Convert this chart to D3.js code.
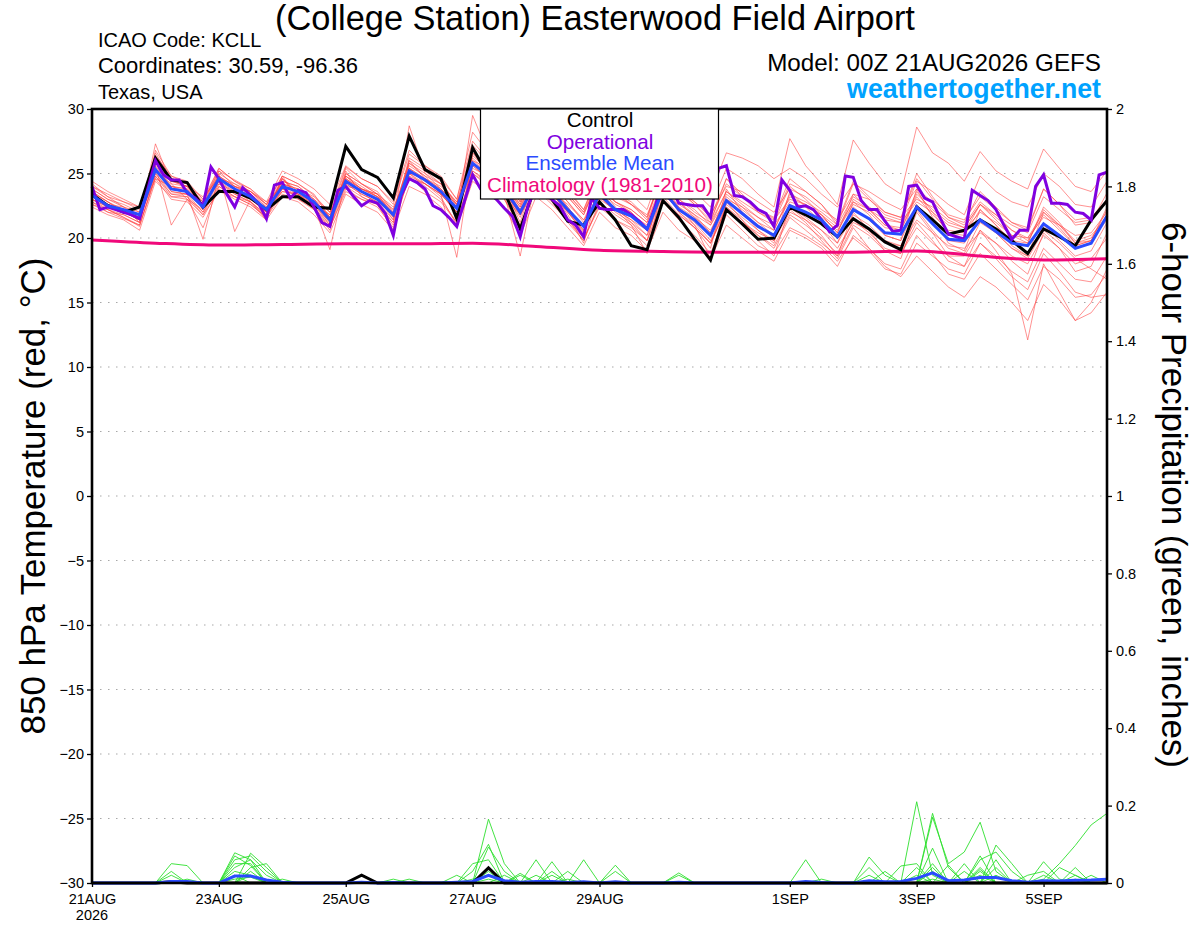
<!DOCTYPE html>
<html><head><meta charset="utf-8">
<script src="https://cdn.jsdelivr.net/npm/d3@7"></script>
<style>
html,body{margin:0;padding:0;background:#fff;}
svg{display:block;font-family:"Liberation Sans",Arial,Helvetica,sans-serif;}
</style></head><body>
<svg id="chart" width="1200" height="927"></svg>
<script>
// ---------------- DATA ----------------
const titleText = "(College Station) Easterwood Field Airport";
const infoLines = ["ICAO Code: KCLL", "Coordinates: 30.59, -96.36", "Texas, USA"];
const modelText = "Model: 00Z 21AUG2026 GEFS";
const siteText = "weathertogether.net";
const legendNames = ["Control", "Operational", "Ensemble Mean", "Climatology (1981-2010)"];
const leftTitle = "850 hPa Temperature (red, °C)";
const rightTitle = "6-hour Precipitation (green, inches)";

const tickHours = [0, 48, 96, 144, 192, 264, 312, 360];
const tickLabels = ["21AUG", "23AUG", "25AUG", "27AUG", "29AUG", "1SEP", "3SEP", "5SEP"];
const firstYear = "2026";
const tempTicks = [-30,-25,-20,-15,-10,-5,0,5,10,15,20,25,30];
const precipTicks = [0,0.2,0.4,0.6,0.8,1,1.2,1.4,1.6,1.8,2];

// 6-hourly series (65 points, 21AUG 00Z .. 6SEP 00Z)
const controlT = [
23.4,22.5,22.0,22.4,26.2,24.5,24.3,22.4,23.6,23.6,23.1,22.2,23.2,23.2,22.4,22.3,
27.1,25.3,24.7,23.1,27.9,25.3,24.6,21.5,27.0,24.8,23.6,20.7,24.2,23.0,21.3,21.0,
22.8,21.4,19.4,19.1,22.9,21.6,19.9,18.3,22.2,21.1,19.9,20.0,22.4,21.8,21.1,20.1,
21.5,20.7,19.7,19.1,22.4,21.4,20.3,20.6,21.4,20.7,19.8,18.8,20.7,20.1,19.4,21.4,22.9];
const meanT = [
23.3,22.5,22.2,21.8,25.3,23.8,23.6,22.4,24.6,23.8,23.2,22.2,24.0,23.6,22.8,21.4,
24.4,23.6,23.0,21.8,25.2,24.5,23.6,22.3,25.8,24.8,23.8,22.0,24.4,23.6,22.2,20.9,
23.4,22.2,21.7,20.7,23.7,22.2,21.4,20.2,22.9,21.9,20.9,20.2,22.5,22.0,21.4,20.1,
22.2,21.5,20.4,20.3,22.4,21.1,19.9,19.8,21.4,20.5,19.6,19.4,21.1,20.2,19.2,19.6,21.7];
// operational run, 3-hourly (129 points)
const operationalT = [
24.0,22.2,22.4,22.2,22.0,21.8,21.5,23.7,26.0,24.9,24.5,24.5,23.5,23.1,22.5,25.5,
24.6,23.4,22.4,23.9,23.3,22.7,21.5,24.1,24.3,23.1,23.7,23.5,22.4,21.2,20.9,23.7,
24.0,23.2,22.5,22.9,22.7,21.9,20.2,23.3,24.6,24.3,23.8,22.5,22.2,21.6,20.9,22.9,
24.9,23.8,23.5,23.0,22.3,21.7,20.1,22.5,24.0,23.5,23.0,22.5,21.4,21.0,20.1,23.1,
22.3,22.2,22.2,22.2,21.8,21.3,20.7,22.4,24.6,24.0,22.7,22.6,22.5,22.5,21.6,25.4,
25.6,23.3,23.2,22.8,22.2,21.9,20.9,24.5,23.7,22.4,22.5,22.2,21.4,20.5,21.0,24.8,
24.7,22.9,22.2,22.2,21.3,20.5,20.6,24.0,24.1,23.1,22.8,21.5,20.3,20.1,19.9,23.7,
23.3,22.9,22.2,21.0,19.9,20.6,20.6,24.0,24.9,22.7,22.7,22.6,22.0,21.9,21.4,24.9,
25.1];
// climatology, daily (17 points)
const climoT = [19.85,19.6,19.45,19.5,19.55,19.55,19.6,19.35,19.05,18.95,18.9,18.9,18.9,19.0,18.6,18.3,18.4];

const membersT = [
[23.8,23.0,22.6,22.0,26.6,24.5,24.0,22.8,25.2,24.5,23.8,22.6,24.8,24.2,23.3,22.0,
 25.5,24.6,24.0,22.6,26.5,25.6,24.8,23.0,27.5,26.0,24.8,22.8,25.8,24.8,23.2,21.8,
 24.8,23.5,22.8,21.6,25.0,23.8,22.6,21.2,24.6,23.4,22.2,21.5,24.2,23.6,22.6,21.0,
 24.2,23.0,21.8,21.4,25.0,23.2,21.6,21.2,23.6,22.4,21.2,20.8,23.8,22.6,21.0,21.2,23.5],
[22.8,22.0,21.5,21.0,24.6,23.0,22.8,21.6,23.8,23.0,22.4,21.4,23.2,22.8,21.8,20.4,
 23.4,22.6,22.0,20.6,24.0,23.4,22.4,20.8,24.4,23.4,22.4,20.2,23.2,22.2,20.8,19.4,
 22.0,20.8,20.2,19.0,22.0,20.6,19.8,18.4,21.0,20.0,19.0,18.2,20.6,20.0,19.2,17.8,
 20.2,19.2,18.0,17.6,20.2,18.8,17.2,16.8,18.8,17.6,16.4,15.2,17.8,16.8,15.4,15.6,17.2],
[23.5,22.8,22.0,21.4,27.3,24.2,23.0,20.8,24.0,23.2,22.8,21.6,24.8,23.0,22.4,21.0,
 25.2,23.2,22.6,21.2,28.7,25.0,23.8,21.6,29.5,26.5,24.0,21.2,25.0,23.8,22.0,20.5,
 24.0,22.4,21.2,19.8,24.4,22.0,20.8,19.2,23.8,22.0,20.6,19.6,23.6,22.4,21.2,19.6,
 22.8,21.8,20.2,19.8,23.8,21.6,19.6,19.0,22.2,21.0,19.4,18.6,22.0,20.8,19.4,19.8,22.4],
[24.2,23.2,22.8,22.2,25.8,24.6,24.2,23.0,24.8,24.0,23.6,22.6,24.2,23.8,23.2,22.0,
 24.0,23.8,23.4,22.4,25.0,24.6,24.0,22.8,25.2,24.4,23.6,22.2,24.2,23.6,22.6,21.4,
 23.0,22.2,21.8,21.0,23.4,22.6,21.8,21.0,23.0,22.4,21.6,21.0,22.8,22.4,21.8,20.8,
 22.8,22.2,21.4,21.2,22.8,22.0,21.0,20.6,22.0,21.2,20.2,20.0,21.6,21.0,20.2,20.4,22.0],
[22.6,22.2,21.6,20.9,24.8,23.4,23.4,22.0,24.4,23.4,22.8,21.8,23.6,23.4,22.6,21.2,
 24.8,23.8,23.2,21.6,25.8,24.8,23.4,22.0,26.4,25.2,24.0,22.4,25.2,24.2,22.8,21.2,
 24.2,22.8,22.2,21.2,24.6,23.0,22.2,21.0,23.6,22.6,21.6,20.6,23.2,22.6,21.8,20.4,
 23.0,22.2,21.0,20.8,23.6,22.0,20.4,20.2,22.2,21.0,19.8,19.6,22.4,21.2,19.6,19.8,22.2],
[23.0,22.4,22.0,21.6,25.6,21.0,23.0,22.2,25.0,20.5,23.0,22.0,24.2,23.8,22.6,21.8,
 24.8,24.0,23.2,21.4,25.4,24.2,23.2,21.0,25.6,24.6,23.4,21.6,24.6,23.4,22.0,20.4,
 23.2,22.0,21.2,20.2,23.8,22.0,21.0,19.6,22.4,21.4,20.2,19.4,21.8,21.0,20.0,18.8,
 21.4,20.4,19.2,18.8,21.2,19.8,18.2,17.8,19.6,18.6,17.4,16.6,19.2,18.0,16.8,16.6,18.6],
[23.6,22.8,22.2,21.6,25.2,24.2,24.0,22.6,24.4,24.0,23.6,22.4,24.4,24.0,23.0,21.6,
 25.0,24.2,23.6,22.0,25.6,24.8,24.2,22.6,26.0,25.4,24.6,22.8,25.6,25.0,23.8,22.2,
 25.2,24.2,23.4,22.2,25.8,24.8,23.6,22.4,25.4,24.6,23.4,22.4,27.7,25.6,24.2,22.6,
 27.6,25.8,24.2,23.4,28.6,26.6,25.8,24.4,26.7,25.2,24.4,23.8,26.9,25.4,24.0,23.6,25.2],
[23.2,22.6,22.4,21.8,24.6,24.0,23.8,22.8,24.2,23.6,23.0,22.2,23.6,23.4,22.8,21.6,
 24.2,23.4,22.8,21.8,24.8,24.2,23.4,22.4,25.0,24.0,23.2,21.8,23.8,22.6,21.4,20.0,
 22.4,21.4,20.8,19.8,22.8,21.8,20.8,19.6,22.2,21.2,20.4,19.8,22.0,21.4,20.6,19.2,
 21.2,20.6,19.6,19.4,21.4,20.4,19.4,19.2,20.4,19.6,18.6,18.0,20.2,19.2,18.0,18.4,20.0],
[24.0,23.2,22.4,21.2,26.0,23.6,23.4,19.9,24.8,23.8,22.8,21.4,24.6,23.4,22.4,19.1,
 24.6,23.6,22.6,20.6,26.0,24.6,23.4,18.5,26.6,25.0,23.4,18.6,24.6,23.6,21.8,19.6,
 23.8,22.2,21.0,18.8,24.2,22.4,21.0,18.4,22.8,21.4,19.8,18.6,22.4,21.4,20.2,18.6,
 22.0,20.6,19.0,18.4,22.0,20.4,18.6,17.8,20.6,19.0,17.2,12.1,18.0,15.8,13.6,15.0,17.6],
[22.4,21.8,21.4,20.6,24.4,23.2,23.0,21.8,23.6,23.2,22.6,21.6,23.8,23.2,22.4,20.8,
 23.8,23.0,22.6,21.2,24.6,24.2,23.4,22.0,25.4,24.8,23.6,21.8,24.8,23.8,22.4,20.8,
 23.6,22.6,22.0,20.8,23.6,22.8,21.6,20.6,23.0,22.0,21.0,20.0,22.2,21.2,19.8,18.4,
 20.8,19.2,17.8,17.0,18.6,17.4,16.2,15.4,17.0,16.2,15.0,13.6,16.4,15.2,13.6,14.2,15.8],
[23.8,23.0,22.4,22.0,25.4,24.0,23.8,22.6,25.0,24.2,23.4,22.4,24.6,23.6,22.8,21.8,
 24.8,23.8,23.2,22.2,25.4,24.6,23.8,22.6,26.2,25.0,24.2,22.4,25.0,24.2,22.8,21.4,
 24.0,22.8,22.2,21.2,24.2,23.0,22.0,21.2,23.6,22.8,22.0,21.4,23.0,22.6,21.6,20.6,
 22.6,22.0,20.8,20.6,23.4,22.2,21.2,20.8,22.6,21.6,20.6,20.0,22.0,21.0,19.8,20.2,21.6],
[23.0,22.4,22.0,21.4,25.0,23.6,23.4,22.4,24.4,23.6,23.0,22.0,23.8,23.4,22.6,21.2,
 24.2,23.4,22.8,21.4,25.0,24.2,23.4,22.0,25.6,24.6,23.6,21.8,24.4,23.4,22.0,20.6,
 23.2,22.2,21.4,20.6,23.6,22.4,21.6,20.4,23.2,22.2,21.2,20.6,23.4,22.8,22.0,21.0,
 23.2,22.4,21.6,21.2,24.4,23.6,22.6,21.8,24.8,23.6,22.8,22.4,25.0,24.0,22.6,22.4,24.4],
[23.4,22.6,22.0,21.8,26.2,24.6,24.2,22.8,25.4,24.4,23.8,22.8,25.2,24.6,23.8,22.6,
 25.6,24.6,24.0,22.8,26.8,25.6,24.6,23.0,28.2,26.6,25.0,23.0,26.4,25.0,23.4,22.0,
 25.0,23.6,22.6,21.6,25.4,23.8,22.8,21.6,24.6,23.2,22.0,21.2,24.0,23.0,21.8,20.4,
 23.4,22.2,21.0,20.6,23.2,21.8,20.6,20.4,22.6,21.4,20.2,19.6,22.2,21.0,19.6,20.0,21.8],
[22.8,22.2,21.6,21.0,24.8,23.2,23.2,22.0,24.0,23.2,22.6,21.6,23.4,23.0,22.2,20.8,
 23.6,23.0,22.4,20.8,24.8,23.6,22.8,21.2,25.0,24.2,23.0,20.8,24.0,23.0,21.4,19.8,
 22.6,21.4,20.6,19.4,22.8,21.4,20.2,18.8,21.8,20.6,19.4,18.8,20.8,20.2,19.4,18.2,
 20.0,19.0,17.6,17.2,19.6,18.6,17.6,17.2,19.6,18.4,17.0,16.0,18.8,17.4,15.8,15.4,15.6],
[24.0,23.4,22.8,22.4,26.4,24.8,24.4,23.0,25.4,24.4,23.6,22.6,24.8,24.2,23.4,21.6,
 24.6,23.8,23.4,22.2,25.8,25.0,24.2,22.8,26.6,25.6,24.4,22.6,25.4,24.6,23.2,21.8,
 24.6,23.2,22.6,21.4,25.2,23.6,22.6,21.4,24.2,23.2,22.2,21.6,24.6,23.6,22.6,21.2,
 24.4,23.2,22.0,21.6,24.6,23.0,21.8,21.4,23.2,22.2,21.2,20.6,23.8,22.6,21.4,21.6,23.0],
[23.2,22.6,22.2,21.6,25.6,24.0,23.6,22.4,24.6,23.8,23.2,22.2,24.2,23.6,22.8,21.4,
 24.4,23.6,23.0,21.8,25.2,24.4,23.6,22.4,25.8,25.0,24.0,22.2,25.2,24.6,23.6,22.2,
 25.0,24.6,24.2,23.0,26.4,25.6,24.6,23.4,26.6,26.2,25.6,24.6,25.4,24.6,23.4,22.4,
 24.2,23.6,22.8,22.2,23.8,22.8,21.6,21.0,22.8,21.8,20.6,19.8,21.8,20.6,19.4,19.8,21.4],
[23.6,22.8,22.0,21.4,25.0,23.4,23.2,21.8,24.2,23.4,22.8,21.8,24.0,23.6,22.6,21.0,
 24.0,23.2,22.6,21.0,25.0,24.0,23.0,21.2,25.2,24.2,23.0,21.0,23.8,22.8,21.2,19.8,
 22.8,21.8,21.0,19.8,23.2,21.8,20.8,19.6,22.4,21.2,20.2,19.2,21.6,20.6,19.6,18.6,
 21.0,20.2,19.0,18.8,20.8,19.6,18.6,18.6,20.6,19.6,18.2,17.2,20.4,19.2,17.4,17.8,20.4],
[22.6,22.0,21.8,21.2,25.8,24.4,24.0,22.6,25.2,24.0,23.4,22.2,24.4,24.0,23.0,21.6,
 25.4,24.2,23.4,21.8,26.0,25.2,24.2,22.4,26.8,25.4,24.2,22.0,25.0,24.0,22.4,20.8,
 23.8,22.8,22.0,20.6,24.0,22.8,21.8,20.4,23.4,22.4,21.2,20.2,22.6,22.0,21.2,20.0,
 22.4,21.4,20.2,19.8,22.6,21.2,19.8,19.6,21.4,20.4,19.2,18.6,21.0,19.8,18.6,19.0,21.2],
[24.4,23.6,23.0,22.4,25.4,24.4,24.0,23.2,24.6,24.2,23.6,22.8,24.0,23.6,23.0,22.0,
 24.6,23.8,23.2,22.0,25.4,24.6,23.8,22.6,26.0,25.0,24.0,22.6,25.6,24.8,23.4,22.0,
 24.4,23.4,22.6,21.8,24.8,23.6,22.8,21.8,24.0,23.6,22.8,22.0,23.8,23.2,22.2,21.4,
 23.4,23.0,22.0,21.6,23.0,22.4,21.4,20.8,22.6,21.8,21.0,20.4,23.2,22.2,21.2,21.4,22.8],
[23.0,22.2,21.8,21.2,26.8,24.8,24.2,22.2,24.8,24.0,23.2,22.0,24.6,23.2,22.2,20.6,
 25.0,24.2,23.4,21.6,26.2,25.4,24.4,22.6,27.2,25.8,24.4,21.8,24.8,23.8,22.2,20.6,
 23.4,22.2,21.4,20.2,23.4,22.2,21.2,19.8,22.6,21.6,20.6,19.8,22.4,21.6,20.6,19.6,
 21.8,21.0,19.8,19.4,22.2,20.6,19.2,18.8,21.2,20.4,19.2,18.4,20.6,19.6,18.4,17.6,16.8]
];

// 6-hour precipitation (inches), 65 points
const controlP = [
0,0,0,0,0,0.003,0,0,0,0,0,0,0,0,0,0,
0,0.02,0,0,0,0,0,0,0,0.039,0,0,0,0,0,0,
0,0,0,0,0,0,0,0,0,0,0,0,0,0,0,0,
0,0,0,0,0,0,0,0,0,0,0,0,0,0,0,0,0];
const meanP = [
0,0,0,0,0,0.004,0.004,0,0,0.018,0.018,0.008,0.002,0,0,0,
0,0.002,0,0.001,0,0,0,0.002,0.004,0.02,0.006,0.002,0.004,0.004,0.001,0.003,
0,0.003,0,0,0,0.002,0,0,0,0,0,0,0,0.004,0.001,0,
0,0.006,0.003,0.004,0.012,0.026,0.006,0.008,0.014,0.014,0.006,0.002,0.006,0.005,0.007,0.008,0.01];
const membersP = [
[0,0,0,0,0,.05,.045,0,0,.03,.02,0,0,0,0,0, 0,0,0,0,0,0,0,0,0,.165,.05,0,0,.055,0,0,
 0,0,0,0,0,0,0,0,0,0,0,0,0,0,0,0, 0,0,0,0,.21,.02,0,0,.03,0,0,0,0,0,0,0,0],
[0,0,0,0,0,0,0,0,0,.078,.06,.02,0,0,0,0, 0,0,0,0,0,0,0,0,0,.093,.03,0,.06,0,0,0,
 0,0,0,0,0,0,0,0,0,0,0,0,0,0,0,0, 0,0,0,0,0,.18,.04,0,0,.098,.05,0,0,0,0,0,0],
[0,0,0,0,0,0,0,0,0,0,.077,.04,0,0,0,0, 0,0,0,0,0,0,0,0,.05,.06,0,0,0,0,0,.06,
 0,0,0,0,0,0,0,0,0,0,0,0,0,0,0,0, 0,.067,.02,0,0,.17,.05,.08,.157,.03,0,0,0,0,0,0,0],
[0,0,0,0,0,.03,0,0,0,.06,.07,.03,0,0,0,0, 0,0,0,0,0,0,0,0,0,.04,0,.025,0,0,0,0,
 0,0,0,0,0,0,0,0,0,0,0,0,0,.06,0,0, 0,0,0,0,0,.09,0,0,.07,0,0,0,.055,.01,0,0,0],
[0,0,0,0,0,0,0,0,0,.05,.05,0,0,0,0,0, 0,0,0,0,0,0,0,.02,0,.02,0,0,0,0,0,0,
 0,.046,0,0,0,0,0,0,0,0,0,0,0,0,0,0, 0,.04,0,.044,.05,0,0,0,0,.06,0,0,0,0,.04,0,0],
[0,0,0,0,0,0,.01,0,0,0,.04,.05,0,0,0,0, 0,0,0,0,.01,0,0,0,0,0,0,0,0,.02,0,0,
 0,0,0,0,0,.026,0,0,0,0,0,0,0,0,0,0, 0,0,0,0,0,0,.046,0,.04,0,0,0,.02,0,0,0,0],
[0,0,0,0,0,0,0,0,0,.02,0,0,0,0,0,0, 0,0,0,0,0,0,0,0,0,0,0,0,0,0,.03,0,
 0,0,0,0,0,0,0,0,0,0,0,0,0,0,0,0, 0,0,0,0,0,0,0,.03,0,0,0,0,.01,.05,.097,.15,.18],
[0,0,0,0,0,0,0,0,0,.04,.06,0,0,0,0,0, 0,0,0,0,0,0,0,0,0,.03,0,0,.02,0,0,0,
 0,.03,0,0,0,0,0,0,0,0,0,0,0,0,0,0, 0,0,0,0,0,.03,0,.05,0,.04,0,0,0,0,.02,0,0],
[0,0,0,0,0,.02,0,0,0,0,.03,0,.01,0,0,0, 0,0,0,0,0,0,0,0,0,0,.02,0,0,0,0,0,
 0,0,0,0,0,0,0,0,0,0,0,0,0,0,.01,0, 0,0,0,0,.04,0,0,0,.06,.08,.03,0,0,0,0,0,0],
[0,0,0,0,0,0,0,0,0,.07,.045,0,0,0,0,0, 0,0,0,0,0,0,0,0,.03,.1,0,0,0,0,.01,0,
 0,0,0,0,0,0,0,0,0,0,0,0,0,0,0,0, 0,0,0,0,0,.05,0,0,0,0,0,.02,.03,0,0,.02,0],
[0,0,0,0,0,0,0,0,0,0,0,0,0,0,0,0, 0,0,0,.01,0,0,0,0,0,.01,0,0,0,0,0,0,
 0,0,0,0,0,.02,0,0,0,0,0,0,0,0,0,0, 0,0,.03,0,0,.04,0,0,.02,0,0,0,0,.04,.02,0,0],
[0,0,0,0,0,0,0,0,0,0,.02,0,0,0,0,0, 0,0,0,0,0,0,0,0,0,0,0,.02,0,.03,0,0,
 0,0,0,0,0,0,0,0,0,0,0,0,0,0,0,0, 0,.02,0,0,.02,0,0,0,.035,0,0,0,0,0,.01,0,0],
[0,0,0,0,0,0,0,0,0,.01,.015,0,0,0,0,0, 0,0,0,0,0,0,0,0,.01,.02,0,0,0,0,0,0,
 0,0,0,0,0,0,0,0,0,0,0,0,0,0,0,0, 0,0,0,0,0,.01,0,0,0,.02,0,0,0,0,0,0,0]
];

// ---------------- CHART ----------------
const svg = d3.select("#chart");
const plot = {left: 92, right: 1107, top: 109, bottom: 883};

const x = d3.scaleLinear().domain([0, 384]).range([plot.left, plot.right]);
const yT = d3.scaleLinear().domain([-30, 30]).range([plot.bottom, plot.top]);
const yP = d3.scaleLinear().domain([0, 2]).range([plot.bottom, plot.top]);

function fitWidth(sel, target) {
  const cur = sel.node().getComputedTextLength();
  const fs = parseFloat(sel.attr("font-size"));
  sel.attr("font-size", (fs * target / cur).toFixed(2));
}

// grid (dotted)
svg.append("g").selectAll("line")
  .data(tempTicks.filter(d => d > -30 && d < 30))
  .join("line")
  .attr("x1", plot.left).attr("x2", plot.right)
  .attr("y1", d => yT(d)).attr("y2", d => yT(d))
  .attr("stroke", "#a8a8a8").attr("stroke-width", 1.2)
  .attr("stroke-dasharray", "1.5,6.5");

const lineT6 = d3.line().x((d, i) => x(i * 6)).y(d => yT(d));
const lineT3 = d3.line().x((d, i) => x(i * 3)).y(d => yT(d));
const lineClimo = d3.line().x((d, i) => x(i * 24)).y(d => yT(d)).curve(d3.curveMonotoneX);
const lineP6 = d3.line().x((d, i) => x(i * 6)).y(d => yP(d));

const gData = svg.append("g");
gData.append("g").selectAll("path").data(membersT).join("path")
  .attr("d", lineT6).attr("fill", "none")
  .attr("stroke", "#ff3b3b").attr("stroke-opacity", 0.7).attr("stroke-width", 0.8);
gData.append("g").selectAll("path").data(membersP).join("path")
  .attr("d", lineP6).attr("fill", "none")
  .attr("stroke", "#2ee02e").attr("stroke-width", 0.9);
gData.append("path").datum(climoT).attr("d", lineClimo).attr("fill", "none")
  .attr("stroke", "#f0087a").attr("stroke-width", 3);
gData.append("path").datum(controlT).attr("d", lineT6).attr("fill", "none")
  .attr("stroke", "#000").attr("stroke-width", 3);
gData.append("path").datum(controlP).attr("d", lineP6).attr("fill", "none")
  .attr("stroke", "#000").attr("stroke-width", 3);
gData.append("path").datum(operationalT).attr("d", lineT3).attr("fill", "none")
  .attr("stroke", "#8000e0").attr("stroke-width", 3);
gData.append("path").datum(meanT).attr("d", lineT6).attr("fill", "none")
  .attr("stroke", "#2a4bff").attr("stroke-width", 3);
gData.append("path").datum(meanP).attr("d", lineP6).attr("fill", "none")
  .attr("stroke", "#2a4bff").attr("stroke-width", 3);

// axes
const axL = svg.append("g").attr("transform", `translate(${plot.left},0)`)
  .call(d3.axisLeft(yT).tickValues(tempTicks).tickSize(5).tickSizeOuter(0).tickPadding(3));
const axR = svg.append("g").attr("transform", `translate(${plot.right},0)`)
  .call(d3.axisRight(yP).tickValues(precipTicks).tickSize(5).tickSizeOuter(0).tickPadding(4)
    .tickFormat(d => String(+d.toFixed(1))));
const axB = svg.append("g").attr("transform", `translate(0,${plot.bottom})`)
  .call(d3.axisBottom(x).tickValues(tickHours).tickSize(4).tickSizeOuter(0).tickPadding(6)
    .tickFormat((d, i) => tickLabels[i]));
[axL, axR, axB].forEach(a => {
  a.selectAll("text").attr("font-size", 14.5).attr("fill", "#000")
    .attr("font-family", '"Liberation Sans",Arial,sans-serif');
  a.selectAll(".tick line").attr("stroke", "#000").attr("stroke-width", 1.3);
  a.select(".domain").remove();
});
axB.selectAll(".tick text").attr("dy", "0.75em");
axB.append("text").attr("x", x(0)).attr("y", 37).attr("text-anchor", "middle")
  .attr("font-size", 14.5).attr("fill", "#000").text(firstYear);

// frame
svg.append("rect").attr("x", plot.left).attr("y", plot.top)
  .attr("width", plot.right - plot.left).attr("height", plot.bottom - plot.top)
  .attr("fill", "none").attr("stroke", "#000").attr("stroke-width", 2.6);

// legend
const leg = svg.append("g");
leg.append("rect").attr("x", 480.5).attr("y", plot.top).attr("width", 238).attr("height", 90)
  .attr("fill", "#fff").attr("stroke", "#000").attr("stroke-width", 1.2);
const legColors = ["#000", "#8000e0", "#2a4bff", "#f0087a"];
const legT = legendNames.map((n, i) => leg.append("text").attr("x", 600).attr("y", 127 + i * 21.6)
    .attr("text-anchor", "middle").attr("font-size", 17).attr("fill", legColors[i]).text(n));
// common size from widest entry
fitWidth(legT[3], 226);
legT.forEach(t => t.attr("font-size", legT[3].attr("font-size")));

// titles
const tt = svg.append("text").attr("x", 595).attr("y", 30).attr("text-anchor", "middle")
  .attr("font-size", 28).attr("fill", "#000").text(titleText);
fitWidth(tt, 640);
infoLines.forEach((s, i) => {
  const t = svg.append("text").attr("x", 98).attr("y", 47 + i * 26)
    .attr("font-size", 20).attr("fill", "#000").text(s);
  if (i === 1) fitWidth(t, 260);
});
const mt = svg.append("text").attr("x", 1101).attr("y", 71).attr("text-anchor", "end")
  .attr("font-size", 20).attr("fill", "#000").text(modelText);
fitWidth(mt, 334);
const st = svg.append("text").attr("x", 1101).attr("y", 98).attr("text-anchor", "end")
  .attr("font-size", 22).attr("font-weight", "bold").attr("fill", "#00a2ff").text(siteText);
fitWidth(st, 254);

const lt = svg.append("text").attr("transform", "translate(45,496) rotate(-90)")
  .attr("text-anchor", "middle").attr("font-size", 28).attr("fill", "#000").text(leftTitle);
fitWidth(lt, 477);
const rt = svg.append("text").attr("transform", "translate(1162,495) rotate(90)")
  .attr("text-anchor", "middle").attr("font-size", 28).attr("fill", "#000").text(rightTitle);
fitWidth(rt, 546);
</script>
</body></html>
